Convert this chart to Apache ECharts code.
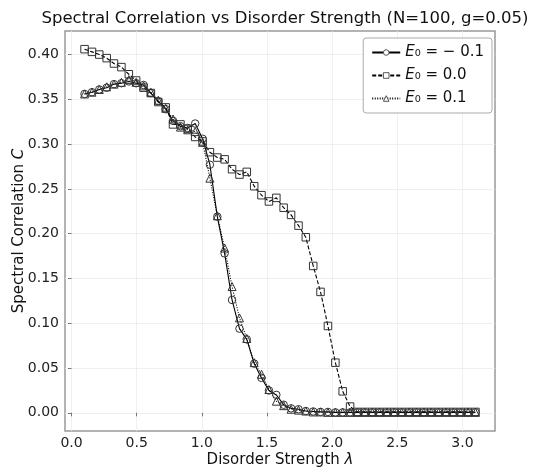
<!DOCTYPE html>
<html>
<head>
<meta charset="utf-8">
<script src="https://cdn.jsdelivr.net/npm/echarts@6/dist/echarts.min.js"></script>
<style>
  html, body { margin: 0; padding: 0; background: #fff; }
  #chart { width: 557px; height: 468px; }
</style>
</head>
<body>
<div id="chart"></div>
<script>
// disorder strength values
var lambdas = [0.100, 0.157, 0.213, 0.270, 0.326, 0.383, 0.440, 0.496, 0.553, 0.609,
    0.666, 0.723, 0.779, 0.836, 0.892, 0.949, 1.006, 1.062, 1.119, 1.175,
    1.232, 1.289, 1.345, 1.402, 1.458, 1.515, 1.572, 1.628, 1.685, 1.742,
    1.798, 1.855, 1.911, 1.968, 2.025, 2.081, 2.138, 2.194, 2.251, 2.308,
    2.364, 2.421, 2.477, 2.534, 2.591, 2.647, 2.704, 2.760, 2.817, 2.874,
    2.930, 2.987, 3.043, 3.100];

// E0 = -0.1
var cNeg = [0.356, 0.358, 0.361, 0.363, 0.367, 0.368, 0.370, 0.368, 0.366, 0.357,
    0.348, 0.339, 0.326, 0.320, 0.318, 0.323, 0.306, 0.277, 0.219, 0.178,
    0.126, 0.094, 0.082, 0.055, 0.039, 0.025, 0.020, 0.009, 0.005, 0.004,
    0.002, 0.0015, 0.001, 0.001, 0.0005, 0.0005, 0.0005, 0.0005, 0.0005, 0.0005,
    0.0005, 0.0005, 0.0005, 0.0005, 0.0005, 0.0005, 0.0005, 0.0005, 0.0005, 0.0005,
    0.0005, 0.0005, 0.0005, 0.0005];

// E0 = 0.0
var cZero = [0.406, 0.403, 0.400, 0.396, 0.390, 0.386, 0.378, 0.371, 0.363, 0.357,
    0.347, 0.341, 0.322, 0.322, 0.317, 0.308, 0.303, 0.291, 0.285, 0.283,
    0.272, 0.266, 0.269, 0.253, 0.243, 0.236, 0.240, 0.229, 0.221, 0.209,
    0.196, 0.164, 0.135, 0.097, 0.056, 0.024, 0.007, 0.001, 0.001, 0.001,
    0.001, 0.001, 0.001, 0.001, 0.001, 0.001, 0.001, 0.001, 0.001, 0.001,
    0.001, 0.001, 0.001, 0.001];

// E0 = 0.1
var cPos = [0.356, 0.358, 0.361, 0.364, 0.367, 0.369, 0.372, 0.369, 0.365, 0.358,
    0.349, 0.340, 0.328, 0.319, 0.316, 0.314, 0.302, 0.262, 0.220, 0.184,
    0.141, 0.106, 0.083, 0.056, 0.043, 0.026, 0.013, 0.008, 0.004, 0.003,
    0.002, 0.001, 0.001, 0.0005, 0.0005, 0.0005, 0.0005, 0.0005, 0.0005, 0.0005,
    0.0005, 0.0005, 0.0005, 0.0005, 0.0005, 0.0005, 0.0005, 0.0005, 0.0005, 0.0005,
    0.0005, 0.0005, 0.0005, 0.0005];

var xTicks = [0.0, 0.5, 1.0, 1.5, 2.0, 2.5, 3.0];
var yTicks = [0.00, 0.05, 0.10, 0.15, 0.20, 0.25, 0.30, 0.35, 0.40];

var font = 'DejaVu Sans';

function pairs(ys) {
    return lambdas.map(function (x, i) { return [x, ys[i]]; });
}

function makeSeries(name, ys, symbol, dash) {
    return {
        name: name,
        type: 'line',
        data: pairs(ys),
        symbol: symbol,
        symbolSize: symbol === 'triangle' ? 8 : 7.5,
        showAllSymbol: true,
        lineStyle: { color: '#000', width: 1.1, type: dash },
        itemStyle: { color: 'rgba(0,0,0,0)', borderColor: '#333', borderWidth: 1 },
        emphasis: { disabled: true },
        animation: false
    };
}

var chart = echarts.init(document.getElementById('chart'));

var option = {
    backgroundColor: '#fff',
    title: {
        text: 'Spectral Correlation vs Disorder Strength (N=100, g=0.05)',
        left: 280,
        textAlign: 'center',
        top: 5,
        textStyle: { fontFamily: font, fontSize: 16.5, fontWeight: 'normal', color: '#111' }
    },
    grid: {
        left: 65,
        right: 62,
        top: 31,
        bottom: 37,
        outerBoundsMode: 'none',
        show: true,
        borderColor: '#999',
        borderWidth: 1.5,
        backgroundColor: 'transparent'
    },
    legend: {
        orient: 'vertical',
        right: 65,
        top: 38,
        itemWidth: 28,
        itemHeight: 7,
        itemGap: 6,
        padding: [6, 8, 6, 8],
        borderColor: '#aaa',
        borderWidth: 1,
        borderRadius: 3,
        backgroundColor: '#fff',
        itemStyle: { color: '#fff', borderColor: '#444', borderWidth: 0.9 },
        data: ['neg', 'zero', 'pos'],
        formatter: function (name) {
            var v = { neg: '= − 0.1', zero: '= 0.0', pos: '= 0.1' }[name];
            return '{e|E}{s|₀ ' + v + '}';
        },
        textStyle: {
            fontFamily: font,
            fontSize: 15,
            color: '#111',
            lineHeight: 17,
            rich: {
                e: { fontFamily: font, fontStyle: 'italic', fontSize: 15, color: '#111' },
                s: { fontFamily: font, fontSize: 15, color: '#111' }
            }
        }
    },
    xAxis: {
        type: 'value',
        min: -0.05,
        max: 3.25,
        name: 'Disorder Strength {i|λ}',
        nameLocation: 'middle',
        nameMoveOverlap: false,
        nameGap: 22,
        nameTextStyle: {
            fontFamily: font, fontSize: 15, color: '#111',
            verticalAlign: 'top',
            rich: { i: { fontFamily: font, fontStyle: 'italic', fontSize: 15, color: '#111' } }
        },
        axisLine: { show: false },
        axisTick: { show: true, customValues: xTicks, length: 3.5, inside: false, lineStyle: { color: '#777' } },
        axisLabel: {
            customValues: xTicks,
            fontFamily: font, fontSize: 14, color: '#222', margin: 5,
            formatter: function (v) { return v.toFixed(1); }
        },
        splitLine: { show: true, lineStyle: { color: '#ececec', width: 0.8 } }
    },
    yAxis: {
        type: 'value',
        min: -0.0203,
        max: 0.4263,
        name: 'Spectral Correlation {i|C}',
        nameLocation: 'middle',
        nameMoveOverlap: false,
        nameGap: 38,
        nameTextStyle: {
            fontFamily: font, fontSize: 15, color: '#111',
            rich: { i: { fontFamily: font, fontStyle: 'italic', fontSize: 15, color: '#111' } }
        },
        axisLine: { show: false },
        axisTick: { show: true, customValues: yTicks, length: 3.5, lineStyle: { color: '#777' } },
        axisLabel: {
            customValues: yTicks,
            fontFamily: font, fontSize: 14, color: '#222', margin: 6,
            formatter: function (v) { return v.toFixed(2); }
        },
        splitLine: { show: true, lineStyle: { color: '#ececec', width: 0.8 } }
    },
    series: [
        makeSeries('neg', cNeg, 'circle', 'solid'),
        makeSeries('zero', cZero, 'rect', [4, 2]),
        makeSeries('pos', cPos, 'triangle', [1, 1.5])
    ]
};

chart.setOption(option);
</script>
</body>
</html>
